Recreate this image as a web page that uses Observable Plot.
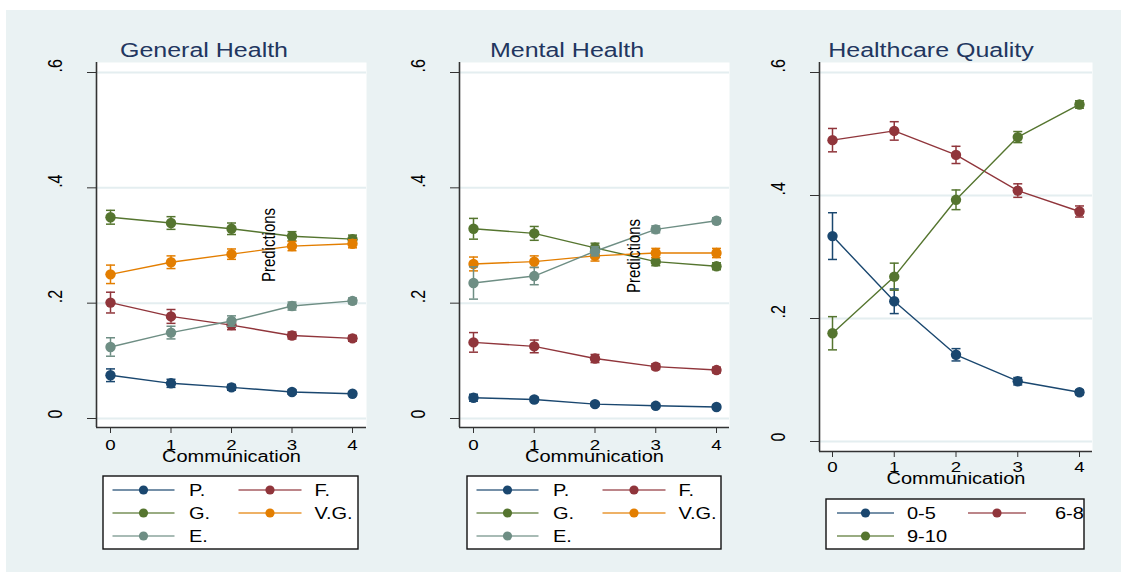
<!DOCTYPE html>
<html><head><meta charset="utf-8">
<script src="https://cdn.jsdelivr.net/npm/d3@7"></script>
<script src="https://cdn.jsdelivr.net/npm/@observablehq/plot@0.6"></script>
<style>
body{margin:0;background:#fff;}
#root{position:relative;width:1123px;height:575px;overflow:hidden;font-family:"Liberation Sans",Arial,sans-serif;}
#bg{position:absolute;left:6px;top:10px;width:1115px;height:562px;background:#EAF2F3;}
.panel{position:absolute;top:0;}
#overlay{position:absolute;left:0;top:0;pointer-events:none;}
</style></head><body><div id="root"><div id="bg"></div></div>
<script>
// ---------- data ----------
const communication = [0, 1, 2, 3, 4];
const yTicks = [0, 0.2, 0.4, 0.6];
const yTickLabels = ["0", ".2", ".4", ".6"];
const healthLevels = ["P.", "F.", "G.", "V.G.", "E."];
const qualityLevels = ["0-5", "6-8", "9-10"];
const healthColors = ["#1a476f", "#90353b", "#55752f", "#e37e00", "#6e8e84"];
const qualityColors = ["#1a476f", "#90353b", "#55752f"];

// General Health: predictions and CI half-widths
const genP   = [0.075, 0.061, 0.054, 0.046, 0.043];
const genPci = [0.011, 0.007, 0.005, 0.004, 0.003];
const genF   = [0.201, 0.177, 0.162, 0.144, 0.139];
const genFci = [0.018, 0.012, 0.008, 0.006, 0.005];
const genG   = [0.349, 0.339, 0.329, 0.316, 0.311];
const genGci = [0.012, 0.011, 0.010, 0.008, 0.007];
const genVG  = [0.250, 0.271, 0.285, 0.299, 0.303];
const genVGci= [0.016, 0.011, 0.009, 0.008, 0.007];
const genE   = [0.124, 0.149, 0.169, 0.195, 0.204];
const genEci = [0.016, 0.011, 0.009, 0.007, 0.005];

// Mental Health
const menP   = [0.036, 0.033, 0.025, 0.022, 0.020];
const menPci = [0.006, 0.004, 0.003, 0.003, 0.003];
const menF   = [0.132, 0.125, 0.104, 0.090, 0.084];
const menFci = [0.017, 0.011, 0.007, 0.005, 0.005];
const menG   = [0.329, 0.321, 0.296, 0.272, 0.264];
const menGci = [0.018, 0.012, 0.008, 0.007, 0.006];
const menVG  = [0.268, 0.272, 0.282, 0.287, 0.287];
const menVGci= [0.012, 0.010, 0.009, 0.008, 0.008];
const menE   = [0.235, 0.247, 0.290, 0.328, 0.343];
const menEci = [0.028, 0.015, 0.008, 0.006, 0.005];

// Healthcare Quality
const hq05    = [0.334, 0.228, 0.141, 0.098, 0.080];
const hq05ci  = [0.038, 0.020, 0.010, 0.006, 0.004];
const hq68    = [0.490, 0.505, 0.466, 0.408, 0.374];
const hq68ci  = [0.019, 0.015, 0.014, 0.011, 0.009];
const hq910   = [0.176, 0.268, 0.393, 0.495, 0.548];
const hq910ci = [0.027, 0.022, 0.016, 0.009, 0.006];

function rows(levels, vals, cis) {
  const out = [];
  levels.forEach((lv, k) => communication.forEach((c, i) => {
    out.push({series: lv, x: c, y: vals[k][i], lo: vals[k][i] - cis[k][i], hi: vals[k][i] + cis[k][i]});
  }));
  return out;
}

const panels = [
  {title: "General Health", titleX: 204, levels: healthLevels, colors: healthColors,
   data: rows(healthLevels, [genP, genF, genG, genVG, genE], [genPci, genFci, genGci, genVGci, genEci]),
   frameL: 96, frameR: 366, frameT: 62, frameB: 427, x0: 110, x4: 352, y0: 418, y6: 72,
   pred: {dx: 37, dy: 0}, labelDy: 34, tickPad: 6,
   legend: {x: 103, y: 476, w: 255, h: 73, rows: [490, 513, 536], cols: [[9.5, 71.5, 86], [135.5, 198.5, 211.5]]}},
  {title: "Mental Health", titleX: 567, levels: healthLevels, colors: healthColors,
   data: rows(healthLevels, [menP, menF, menG, menVG, menE], [menPci, menFci, menGci, menVGci, menEci]),
   frameL: 459, frameR: 729, frameT: 62, frameB: 427, x0: 473, x4: 716, y0: 418, y6: 72,
   pred: {dx: 39, dy: 11}, labelDy: 34, tickPad: 6,
   legend: {x: 467, y: 476, w: 254, h: 73, rows: [490, 513, 536], cols: [[9.5, 71.5, 86], [135.5, 198.5, 211.5]]}},
  {title: "Healthcare Quality", titleX: 931, levels: qualityLevels, colors: qualityColors,
   data: rows(qualityLevels, [hq05, hq68, hq910], [hq05ci, hq68ci, hq910ci]),
   frameL: 819, frameR: 1092, frameT: 62, frameB: 451, x0: 832, x4: 1079, y0: 441, y6: 72,
   pred: null, labelDy: 32, tickPad: 4,
   legend: {x: 826, y: 499, w: 258, h: 50, rows: [513, 536], cols: [[11, 68, 81], [142, 200, 229]]}}
];

const FONT = '"Liberation Sans", Arial, sans-serif';
const SX = 1.25; // horizontal text stretch

function stretch(svg) {
  svg.querySelectorAll("text").forEach(t => {
    const tr = t.getAttribute("transform") || "";
    const m = tr.match(/rotate\(([^)]+)\)/);
    const base = tr.replace(/rotate\([^)]+\)/, "").trim();
    t.setAttribute("transform", `${base} scale(${SX},1)${m ? ` rotate(${m[1]})` : ""}`);
  });
}

const cap = {draw(ctx) { ctx.moveTo(-4.5, 0); ctx.lineTo(4.5, 0); }};
const root = document.getElementById("root");

panels.forEach(p => {
  const mL = 80, mR = 12, mB = 50;
  const svgLeft = p.frameL - mL;
  const W = p.frameR - svgLeft + mR;
  const H = p.frameB + mB;
  const marks = [
    Plot.frame({fill: "white", stroke: "none"}),
    Plot.ruleY(yTicks, {stroke: "#e4eef0", strokeWidth: 2}),
    Plot.axisY({ticks: yTicks, tickSize: 9, tickFormat: () => "", stroke: "#333"}),
    Plot.text(yTicks, {y: d => d, text: (d, i) => yTickLabels[i], frameAnchor: "left", dx: -41, rotate: -90, fontSize: 16, fill: "#000"}),
    Plot.axisX({ticks: communication, tickSize: 6, tickPadding: p.tickPad, fontSize: 15, stroke: "#333", fill: "#000", label: null, tickFormat: d => String(d)}),
    Plot.text(["Communication"], {frameAnchor: "bottom", dy: p.labelDy, fontSize: 16, fill: "#000"}),
    Plot.ruleX([0], {dx: p.frameL - p.x0, stroke: "#333", strokeWidth: 1.6}),
    Plot.ruleY([0], {dy: p.frameB - p.y0, stroke: "#333", strokeWidth: 1.6})
  ];
  p.levels.forEach(lv => {
    const d = p.data.filter(r => r.series === lv);
    marks.push(Plot.ruleX(d, {x: "x", y1: "lo", y2: "hi", stroke: "series", strokeWidth: 1.5}));
    marks.push(Plot.dot(d, {x: "x", y: "lo", symbol: cap, fill: "none", stroke: "series", strokeWidth: 1.5}));
    marks.push(Plot.dot(d, {x: "x", y: "hi", symbol: cap, fill: "none", stroke: "series", strokeWidth: 1.5}));
    marks.push(Plot.line(d, {x: "x", y: "y", stroke: "series", strokeWidth: 1.4}));
    marks.push(Plot.dot(d, {x: "x", y: "y", fill: "series", r: 5.2}));
  });
  if (p.pred) marks.push(Plot.text(["Predictions"], {frameAnchor: "middle", dx: p.pred.dx, dy: p.pred.dy, rotate: -90, fontSize: 15, fill: "#000"}));
  const chart = Plot.plot({
    width: W, height: H,
    marginLeft: mL, marginRight: mR, marginTop: p.frameT, marginBottom: mB,
    x: {domain: [0, 4], range: [p.x0 - svgLeft, p.x4 - svgLeft]},
    y: {domain: [0, 0.6], range: [p.y0, p.y6]},
    color: {domain: p.levels, range: p.colors},
    style: {background: "transparent", fontFamily: FONT, fontSize: "16px", color: "#000", overflow: "visible"},
    marks
  });
  stretch(chart);
  chart.classList.add("panel");
  chart.style.left = svgLeft + "px";
  root.appendChild(chart);
});

// overlay: titles and legends
const ov = d3.select(root).append("svg").attr("id", "overlay").attr("width", 1123).attr("height", 575)
  .style("font-family", FONT);
panels.forEach(p => {
  ov.append("text").attr("text-anchor", "middle").attr("font-size", 20).attr("fill", "#22365f")
    .attr("transform", `translate(${p.titleX},57) scale(${SX},1)`).text(p.title);
  const L = p.legend;
  const g = ov.append("g").attr("transform", `translate(${L.x},${L.y})`);
  g.append("rect").attr("x", 0).attr("y", 0).attr("width", L.w).attr("height", L.h)
    .attr("fill", "white").attr("stroke", "#111").attr("stroke-width", 1.4);
  p.levels.forEach((lv, k) => {
    const r = Math.floor(k / 2), c = k % 2;
    const cy = L.rows[r] - L.y;
    const [a, b, tx] = L.cols[c];
    g.append("line").attr("x1", a).attr("x2", b).attr("y1", cy).attr("y2", cy)
      .attr("stroke", p.colors[k]).attr("stroke-width", 1.6).attr("stroke-opacity", 0.8);
    g.append("circle").attr("cx", (a + b) / 2).attr("cy", cy).attr("r", 4.6).attr("fill", p.colors[k]);
    g.append("text").attr("font-size", 16).attr("fill", "#000")
      .attr("transform", `translate(${tx},${cy + 5.7}) scale(${SX},1)`).text(lv);
  });
});
</script></body></html>
